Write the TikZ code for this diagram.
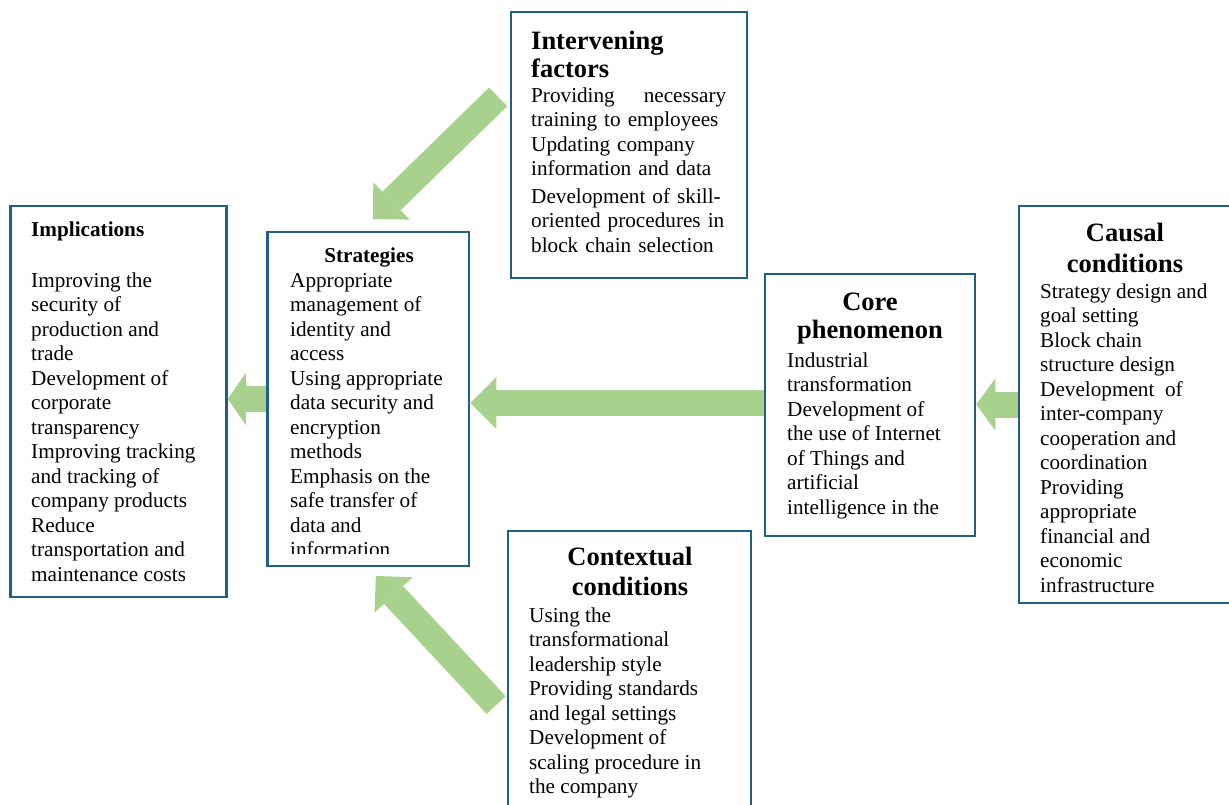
\documentclass[tikz,border=0pt]{standalone}
\usepackage{fontspec}
\setmainfont{Liberation Serif}
\usepackage{tikz}
\usetikzlibrary{arrows.meta}
\setlength{\parindent}{0pt}
\definecolor{c_border}{RGB}{32,96,132}
\definecolor{c_arrow}{RGB}{169,209,142}
\newcommand{\bodyfont}{\fontsize{21.2}{24.5}\selectfont}
\tikzset{c-box/.style={rectangle, draw=c_border, line width=2.5pt, fill=white, anchor=north west, inner sep=0pt, outer sep=0pt},
c-text/.style={anchor=north west, inner sep=0pt, align=left, font=\bodyfont},
c-head/.style={anchor=north, inner sep=0pt, align=center, font=\fontsize{26.5}{#1}\selectfont\bfseries},
c-head/.default=29pt,
bigarrow/.style={draw=c_arrow, line width=26pt, line cap=butt, shorten <=1.25pt, shorten >=1.25pt, -{Triangle[length=#1, width=52pt, line width=0pt]}},
bigarrow/.default=26pt}

\begin{document}
\begin{tikzpicture}[x=1pt, y=-1pt]
\useasboundingbox (0,0) rectangle (1229,805);
\clip (0,0) rectangle (1229,805);
% boxes
\node (impl) [c-box, minimum width=216pt, minimum height=391pt] at (10.5,206) {};
\node (strat) [c-box, minimum width=201.5pt, minimum height=334pt] at (267.5,232) {};
\node (interv) [c-box, minimum width=236pt, minimum height=266pt] at (511,12) {};
\node (core) [c-box, minimum width=210pt, minimum height=262pt] at (765,274) {};
\node (causal) [c-box, minimum width=230pt, minimum height=397pt] at (1019,206) {};
\node (context) [c-box, minimum width=243pt, minimum height=290pt] at (508,531) {};
% texts
\node (impl-head) [c-text, font=\bodyfont\bfseries] at (31,218.85) {\strut Implications};
\node (impl-text) [c-text] at (31,269.85) {\strut Improving the\\
security of\\
production and\\
trade\\
Development of\\
corporate\\
transparency\\
Improving tracking\\
and tracking of\\
company products\\
Reduce\\
transportation and\\
maintenance costs};
\node (strat-head) [c-text, anchor=north, font=\bodyfont\bfseries] at (369,244.85) {\strut Strategies};
\begin{scope}
\clip (269,233) rectangle (468,553);
\node (strat-text) [c-text] at (290,269.85) {\strut Appropriate\\
management of\\
identity and\\
access\\
Using appropriate\\
data security and\\
encryption\\
methods\\
Emphasis on the\\
safe transfer of\\
data and\\
information};
\end{scope}
\node (interv-head) [c-head=28pt, anchor=north west, align=left] at (531,29.4) {\strut Intervening\\ factors};
\node (interv-text) [c-text, text width=195pt] at (531,84.85) {\strut Providing\hfill necessary\\
training to employees\\
Updating company\\
information and data\\[3pt]
Development of skill-\\
oriented procedures in\\
block chain selection};
\node (core-head) [c-head=28pt] at (870,290.4) {\strut Core\\ phenomenon};
\node (core-text) [c-text] at (787,349.85) {\strut Industrial\\
transformation\\
Development of\\
the use of Internet\\
of Things and\\
artificial\\
intelligence in the};
\node (causal-head) [c-head=31pt] at (1125,219.3) {\strut Causal\\ conditions};
\node (causal-text) [c-text] at (1040,280.85) {\strut Strategy design and\\
goal setting\\
Block chain\\
structure design\\
Development\ \ of\\
inter-company\\
cooperation and\\
coordination\\
Providing\\
appropriate\\
financial and\\
economic\\
infrastructure};
\node (context-head) [c-head=30pt] at (630,544) {\strut Contextual\\ conditions};
\node (context-text) [c-text] at (529,604.85) {\strut Using the\\
transformational\\
leadership style\\
Providing standards\\
and legal settings\\
Development of\\
scaling procedure in\\
the company};
% arrows
\coordinate (iv-out) at (499,96);
\coordinate (st-top) at (372,220);
\coordinate (cx-out) at (497,706);
\coordinate (st-bottom) at (375,575);
\draw [bigarrow] (iv-out) -- (st-top);
\draw [bigarrow] (cx-out) -- (st-bottom);
\draw [bigarrow=18pt] (strat.west) -- (impl.east |- strat.west);
\draw [bigarrow] ([yshift=2pt]core.west) -- ([yshift=2pt]strat.east |- core.west);
\draw [bigarrow=19pt] (causal.west) -- (core.east |- causal.west);
\end{tikzpicture}
\end{document}
